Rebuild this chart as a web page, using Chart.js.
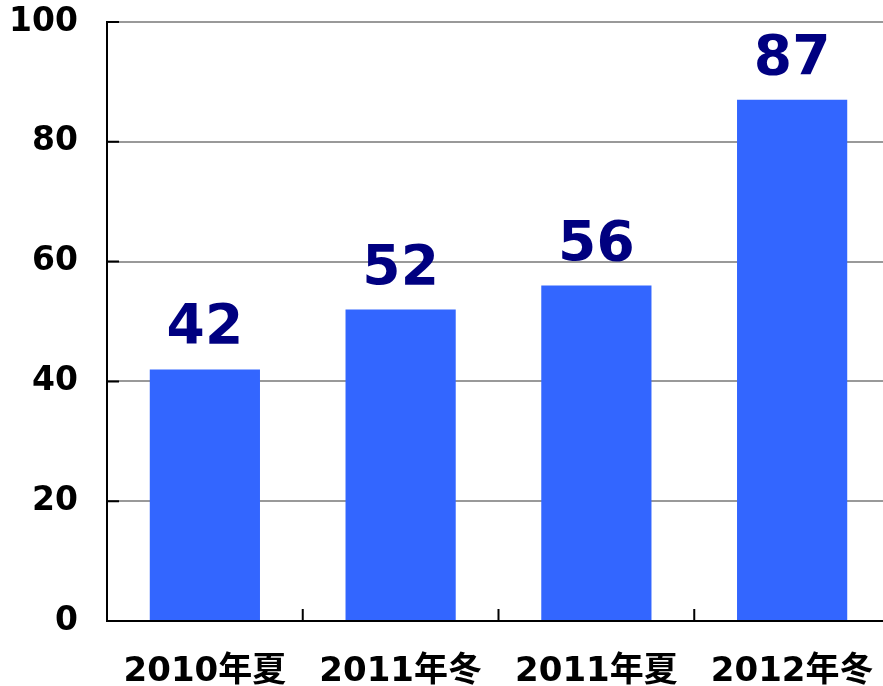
<!DOCTYPE html>
<html>
<head>
<meta charset="utf-8">
<script src="https://cdn.jsdelivr.net/npm/chart.js@4.4.0/dist/chart.umd.min.js"></script>
<style>
  html, body { margin: 0; padding: 0; background: #fff; overflow: hidden; }
  #wrap { width: 883px; height: 686px; overflow: hidden; }
</style>
</head>
<body>
<div id="wrap"><canvas id="myChart" width="890" height="686"></canvas></div>
<script>
const categories = ['2010年夏', '2011年冬', '2011年夏', '2012年冬'];
const values = [42, 52, 56, 87];
const yTicks = [0, 20, 40, 60, 80, 100];

const fontFamily = '"DejaVu Sans", "Noto Sans CJK SC", sans-serif';

// inner tick marks on both axes
const innerTicks = {
    id: 'innerTicks',
    afterDraw: function (chart) {
        const ctx = chart.ctx;
        const area = chart.chartArea;
        const x = chart.scales.x;
        const y = chart.scales.y;
        ctx.save();
        ctx.strokeStyle = '#000000';
        ctx.lineWidth = 2;
        ctx.beginPath();
        yTicks.forEach(function (v) {
            const py = y.getPixelForValue(v);
            ctx.moveTo(area.left, py);
            ctx.lineTo(area.left + 12, py);
        });
        for (let i = 1; i < categories.length; i++) {
            const px = (x.getPixelForValue(i - 1) + x.getPixelForValue(i)) / 2;
            ctx.moveTo(px, area.bottom);
            ctx.lineTo(px, area.bottom - 12);
        }
        ctx.stroke();
        ctx.restore();
    }
};

// value labels above bars
const barLabels = {
    id: 'barLabels',
    afterDatasetsDraw: function (chart) {
        const ctx = chart.ctx;
        ctx.save();
        ctx.textAlign = 'center';
        ctx.textBaseline = 'alphabetic';
        ctx.fillStyle = '#000080';
        ctx.font = 'bold 55px ' + fontFamily;
        const meta = chart.getDatasetMeta(0);
        meta.data.forEach(function (bar, i) {
            ctx.fillText(values[i], bar.x, bar.y - 26);
        });
        ctx.restore();
    }
};

document.addEventListener('DOMContentLoaded', function () {
    const ctx = document.getElementById('myChart').getContext('2d');

    new Chart(ctx, {
        type: 'bar',
        data: {
            labels: categories,
            datasets: [{
                data: values,
                backgroundColor: '#3366FF',
                barPercentage: 0.563,
                categoryPercentage: 1.0
            }]
        },
        options: {
            responsive: false,
            animation: false,
            layout: { padding: { top: 22, right: 0, left: 0, bottom: 0 } },
            plugins: {
                legend: { display: false },
                tooltip: { enabled: false }
            },
            scales: {
                x: {
                    grid: { display: false, drawTicks: false },
                    border: { display: true, color: '#000000', width: 2 },
                    ticks: {
                        color: '#000000',
                        padding: 31,
                        font: { family: fontFamily, size: 34, weight: 'bold' }
                    },
                    afterFit: function (scale) {
                        scale.height = 65;
                        scale.paddingLeft = 0;
                        scale.paddingRight = 0;
                    }
                },
                y: {
                    min: 0,
                    max: 100,
                    afterBuildTicks: function (scale) {
                        scale.ticks = yTicks.map(function (v) { return { value: v }; });
                    },
                    grid: { color: '#999999', lineWidth: 2, drawTicks: false },
                    border: { display: true, color: '#000000', width: 2 },
                    ticks: {
                        color: '#000000',
                        padding: 29,
                        font: { family: fontFamily, size: 33, weight: 'bold' }
                    },
                    afterFit: function (scale) {
                        scale.width = 107;
                        scale.paddingTop = 0;
                        scale.paddingBottom = 0;
                    }
                }
            }
        },
        plugins: [innerTicks, barLabels]
    });
});
</script>
</body>
</html>
